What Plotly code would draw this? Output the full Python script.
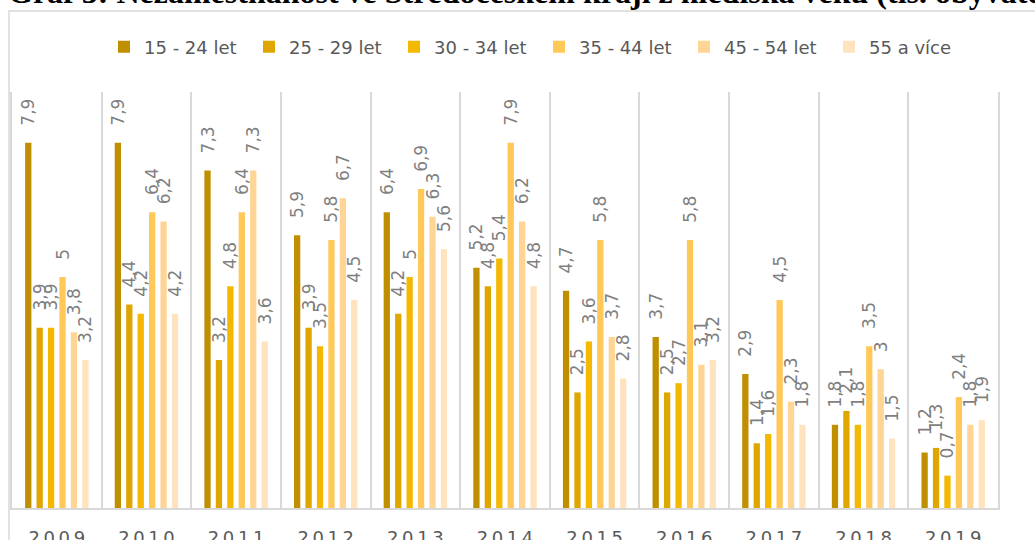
import plotly.graph_objects as go

years = ["2009", "2010", "2011", "2012", "2013", "2014", "2015", "2016", "2017", "2018", "2019"]
year_labels = ["\u2009".join(list(y)) for y in years]

series_names = ["15 - 24 let", "25 - 29 let", "30 - 34 let", "35 - 44 let", "45 - 54 let", "55 a více"]
colors = ["#BF8F00", "#DFA600", "#F4B800", "#FFC858", "#FFD595", "#FFE2BE"]

v_15_24 = [7.9, 7.9, 7.3, 5.9, 6.4, 5.2, 4.7, 3.7, 2.9, 1.8, 1.2]
v_25_29 = [3.9, 4.4, 3.2, 3.9, 4.2, 4.8, 2.5, 2.5, 1.4, 2.1, 1.3]
v_30_34 = [3.9, 4.2, 4.8, 3.5, 5.0, 5.4, 3.6, 2.7, 1.6, 1.8, 0.7]
v_35_44 = [5.0, 6.4, 6.4, 5.8, 6.9, 7.9, 5.8, 5.8, 4.5, 3.5, 2.4]
v_45_54 = [3.8, 6.2, 7.3, 6.7, 6.3, 6.2, 3.7, 3.1, 2.3, 3.0, 1.8]
v_55 = [3.2, 4.2, 3.6, 4.5, 5.6, 4.8, 2.8, 3.2, 1.8, 1.5, 1.9]

all_values = [v_15_24, v_25_29, v_30_34, v_35_44, v_45_54, v_55]

title_text = "Graf 3: Nezaměstnanost ve Středočeském kraji z hlediska věku (tis. obyvatel)"

W, H = 1035, 540
ML, MR, MT, MB = 12, 37, 92, 32
PW, PH = W - ML - MR, H - MT - MB


def px_x(p):
    return (p - ML) / PW


def px_y(p):
    return (H - MB - p) / PH


def fmt(v):
    s = ("%g" % v).replace(".", ",")
    return "\u00a0\u00a0\u2009" + s


fig = go.Figure()
for name, vals, col in zip(series_names, all_values, colors):
    fig.add_trace(go.Bar(
        x=years, y=vals, name=name,
        marker=dict(color=col, line=dict(width=0)),
        text=[fmt(v) for v in vals],
        textposition="outside", textangle=-90, constraintext="none",
        textfont=dict(family="DejaVu Sans", size=17, color="#7F7F7F"),
        cliponaxis=False,
    ))

fig.update_layout(
    width=W, height=H,
    margin=dict(l=ML, r=MR, t=MT, b=MB, pad=0, autoexpand=False),
    paper_bgcolor="white", plot_bgcolor="white",
    barmode="group", bargap=0.235, bargroupgap=0.45,
    showlegend=True,
    legend=dict(orientation="h", x=px_x(104), y=px_y(47), xanchor="left", yanchor="middle",
                font=dict(family="DejaVu Sans", size=18, color="#595959"),
                entrywidth=100, entrywidthmode="pixels", traceorder="normal",
                bgcolor="rgba(0,0,0,0)"),
    xaxis=dict(type="category", tickmode="array", tickvals=years, ticktext=year_labels,
               tickson="boundaries", showgrid=True, gridcolor="#D9D9D9", gridwidth=1.5,
               showline=True, linecolor="#D9D9D9", linewidth=2, automargin=False,
               ticks="", ticklabelstandoff=12,
               tickfont=dict(family="DejaVu Sans", size=18, color="#595959")),
    yaxis=dict(range=[0, 9], showgrid=False, showticklabels=False, zeroline=False, automargin=False,
               showline=True, linecolor="#D9D9D9", linewidth=2, mirror=True, ticks=""),
    shapes=[dict(type="rect", xref="paper", yref="paper",
                 x0=px_x(9), x1=px_x(1050), y0=px_y(560), y1=px_y(11),
                 line=dict(color="#D9D9D9", width=1.5), fillcolor="rgba(0,0,0,0)", layer="below")],
    annotations=[dict(text="<b>" + title_text + "</b>", xref="paper", yref="paper",
                      x=px_x(6), y=px_y(-8), xanchor="left", yanchor="middle", showarrow=False,
                      font=dict(family="Liberation Serif", size=32, color="black"))],
)

fig.write_html("out.html",
               config={"displayModeBar": False},
               post_script="document.body.style.margin='0';document.body.style.overflow='hidden';")
